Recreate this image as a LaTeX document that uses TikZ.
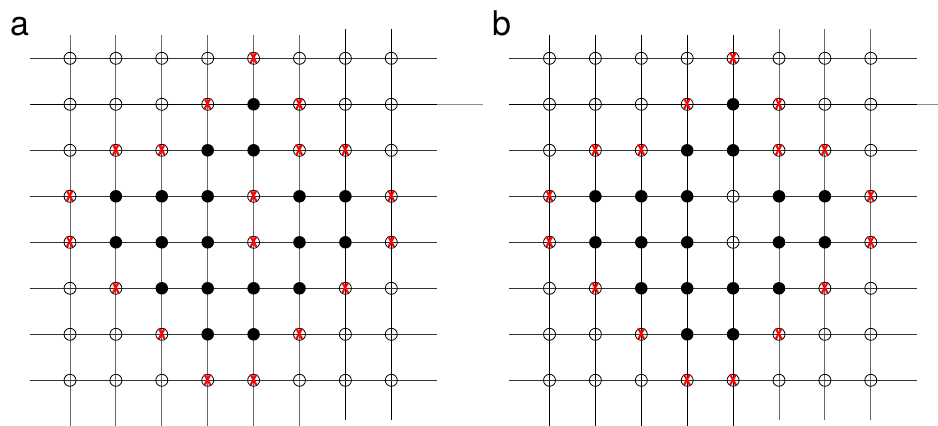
\documentclass[tikz,border=0pt]{standalone}
\usepackage{fontspec}
\setsansfont{TeX Gyre Heros}
\usepackage{graphicx}
\usepackage{tikz}

\begin{document}
\begin{tikzpicture}[
  x=1pt, y=-1pt,
  gridline/.style={line width=1pt, black!80},
  darkline/.style={line width=1pt, black},
  siteo/.style={circle, draw, line width=0.8pt, minimum size=12pt, inner sep=0pt},
  sitef/.style={circle, fill=black, minimum size=12.5pt, inner sep=0pt},
  sitex/.style={siteo, label={[text=red, inner sep=0pt, font=\sffamily\bfseries\fontsize{13}{13}\selectfont]center:\scalebox{1.25}[1.5]{x}}},
  panel/.style={font=\sffamily\fontsize{34}{34}\selectfont, anchor=base west, inner sep=0pt}
]
\useasboundingbox (0,0) rectangle (938,426);

% Panel labels
\node[panel] (la) at (10,35) {a};
\node[panel] (lb) at (492,35) {b};

% Grid lines, panel a
\foreach \c in {0,...,5}
  \draw[gridline, black!60] (70+45.9*\c,35) -- (70+45.9*\c,426);
\foreach \c in {6,7}
  \draw[darkline] (70+45.9*\c,29) -- (70+45.9*\c,420);
\foreach \r in {0,2,3,...,7}
  \draw[gridline] (30,58.3+46*\r) -- (437,58.3+46*\r);
\draw[darkline, line width=1.4pt] (30,104.3) -- (437,104.3);
\draw[gridline, black!45] (437,104.3) -- (483,104.3);

% Grid lines, panel b
\foreach \c in {0,...,4}
  \draw[darkline] (549.5+45.9*\c,35) -- (549.5+45.9*\c,426);
\foreach \c in {5,6,7}
  \draw[gridline, black!60] (549.5+45.9*\c,29) -- (549.5+45.9*\c,420);
\foreach \r in {0,2,3,...,7}
  \draw[gridline] (509,58.3+46*\r) -- (917,58.3+46*\r);
\draw[darkline, line width=1.4pt] (509,104.3) -- (917,104.3);
\draw[gridline, black!45] (917,104.3) -- (938,104.3);

% Sites, panel a
\foreach \row [count=\r from 0] in {
  {o,o,o,o,x,o,o,o},
  {o,o,o,x,f,x,o,o},
  {o,x,x,f,f,x,x,o},
  {x,f,f,f,x,f,f,x},
  {x,f,f,f,x,f,f,x},
  {o,x,f,f,f,f,x,o},
  {o,o,x,f,f,x,o,o},
  {o,o,o,x,x,o,o,o}}
  \foreach \t [count=\c from 0] in \row
    \node[site\t] (a-\r-\c) at (70+45.9*\c,58.3+46*\r) {};

% Sites, panel b
\foreach \row [count=\r from 0] in {
  {o,o,o,o,x,o,o,o},
  {o,o,o,x,f,x,o,o},
  {o,x,x,f,f,x,x,o},
  {x,f,f,f,o,f,f,x},
  {x,f,f,f,o,f,f,x},
  {o,x,f,f,f,f,x,o},
  {o,o,x,f,f,x,o,o},
  {o,o,o,x,x,o,o,o}}
  \foreach \t [count=\c from 0] in \row
    \node[site\t] (b-\r-\c) at (549.5+45.9*\c,58.3+46*\r) {};
\end{tikzpicture}
\end{document}
